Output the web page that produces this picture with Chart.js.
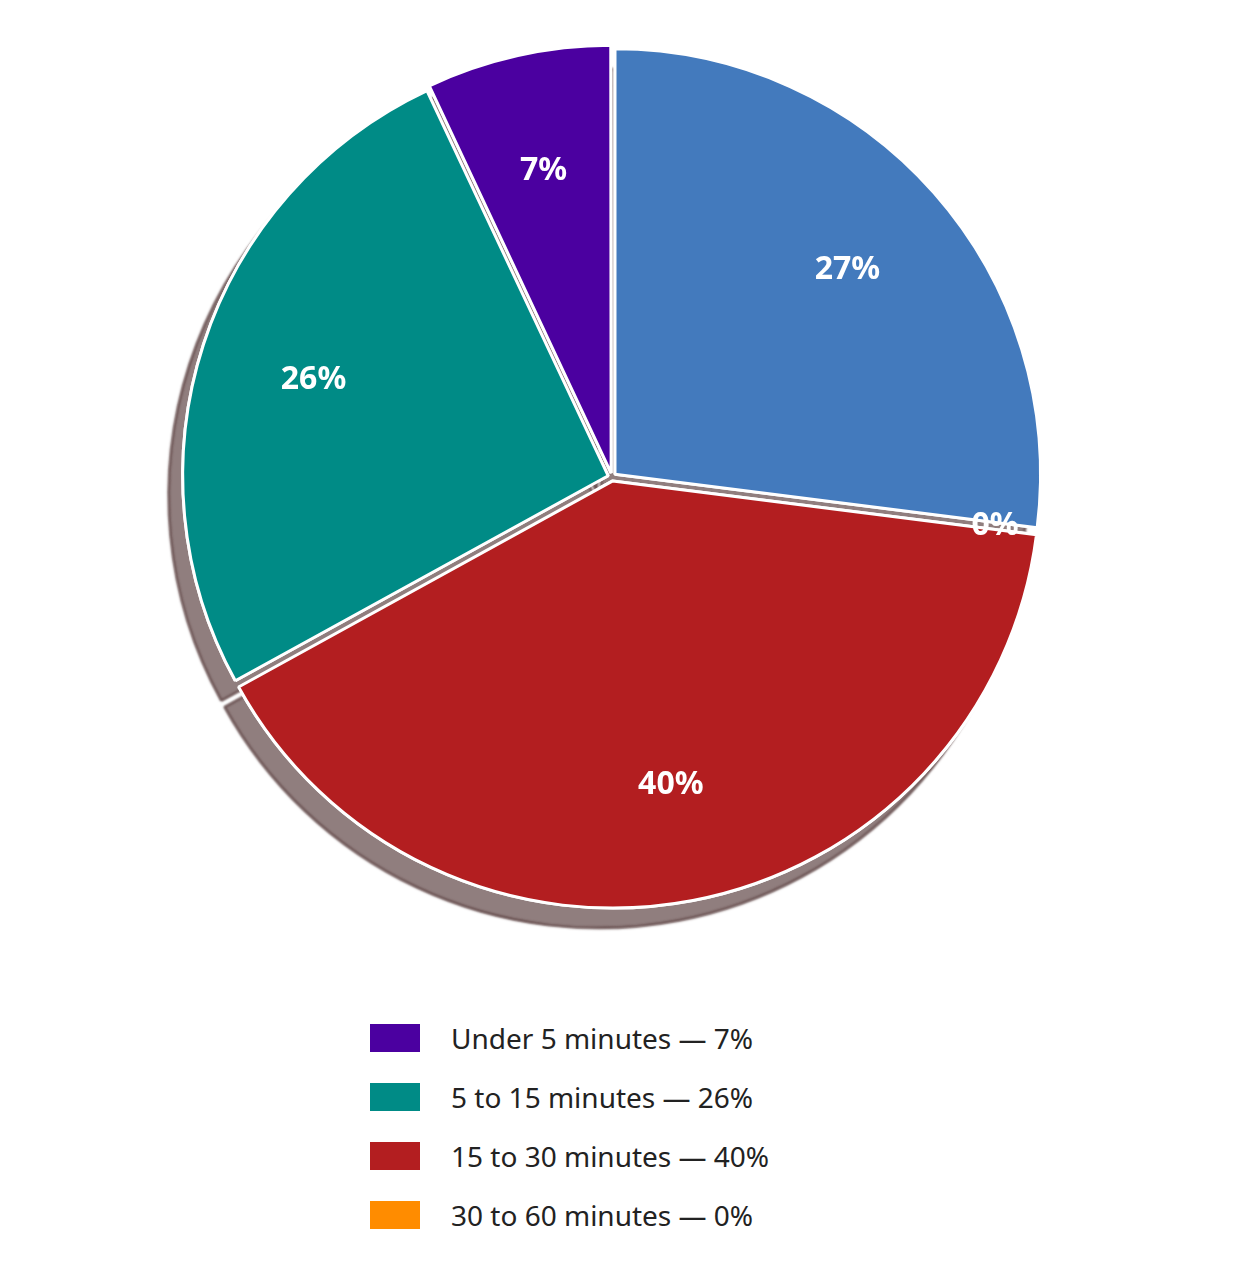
<!DOCTYPE html>
<html><head><meta charset="utf-8">
<script src="https://cdn.jsdelivr.net/npm/chart.js@4/dist/chart.umd.min.js"></script>
<style>
body{margin:0;background:#fff;font-family:"Noto Sans",sans-serif;}
#wrap{position:relative;width:1240px;height:960px;}
#legend{position:absolute;left:370px;top:1008px;}
.item{display:flex;align-items:center;height:59px;font-size:28px;color:#222;}
.box{width:50px;height:28px;margin-right:31px;}
</style></head><body>
<div id="wrap"><canvas id="c" width="1240" height="960"></canvas></div>
<div id="legend"></div>
<script>
const categories = ["Over 60 minutes","30 to 60 minutes","15 to 30 minutes","5 to 15 minutes","Under 5 minutes"];
const values = [27, 0, 40, 26, 7];
const colors = ["#437ABD","#FF8C00","#B31E20","#008B86","#4B00A0"];
const legendOrder = [4,3,2,1];

const shadow = {
  id:'shadow',
  beforeDatasetsDraw(chart){
    const c=chart.ctx, meta=chart.getDatasetMeta(0);
    c.save();c.shadowColor='rgba(70,40,40,0.6)';c.shadowOffsetX=-14;c.shadowOffsetY=20;c.shadowBlur=2;
    meta.data.forEach(a=>a.draw(c));
    c.restore();
  },
  afterDatasetsDraw(chart){
    const c=chart.ctx, meta=chart.getDatasetMeta(0);
    c.save();c.fillStyle='#fff';c.font='bold 32px "Noto Sans", sans-serif';c.textAlign='center';c.textBaseline='middle';
    meta.data.forEach((a,i)=>{
      const mid=(a.startAngle+a.endAngle)/2;
      const f = values[i]===0?0.87:0.7;
      const r=a.outerRadius*f, off=a.options.offset;
      c.fillText(values[i]+'%', a.x+Math.cos(mid)*(r+off), a.y+Math.sin(mid)*(r+off));
    });
    c.restore();
  }
};
new Chart(document.getElementById('c'),{
  type:'pie',
  data:{labels:categories,datasets:[{data:values,backgroundColor:colors,borderColor:'#fff',borderWidth:3,offset:16}]},
  options:{responsive:false,animation:false,
    layout:{padding:{top:42,bottom:48,left:0,right:16}},
    plugins:{legend:{display:false},tooltip:{enabled:false}}},
  plugins:[shadow]
});
const lg=document.getElementById('legend');
legendOrder.forEach(i=>{
  const d=document.createElement('div');d.className='item';
  d.innerHTML='<span class="box" style="background:'+colors[i]+'"></span>'+categories[i]+' — '+values[i]+'%';
  lg.appendChild(d);
});
</script>
</body></html>
